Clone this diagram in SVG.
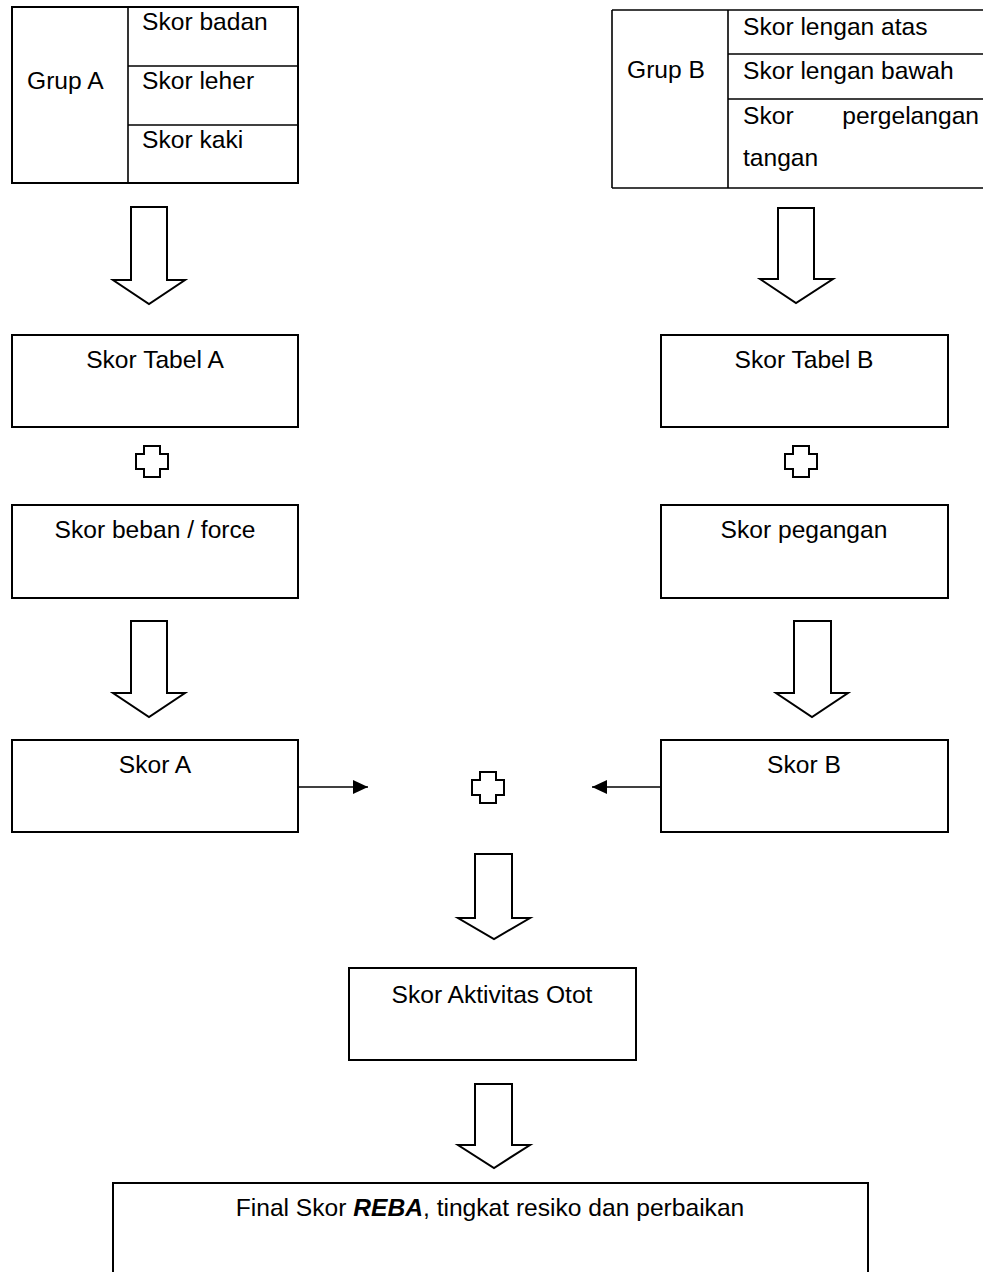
<svg xmlns="http://www.w3.org/2000/svg" width="983" height="1272" viewBox="0 0 983 1272">
<style>
.t{font-family:"Liberation Sans",Arial,sans-serif;font-size:24.6px;fill:#000}
.c{text-anchor:middle}
.b{fill:#fff;stroke:#000;stroke-width:2}
.l{stroke:#000;stroke-width:1.6;fill:none}
.ba{fill:#fff;stroke:#000;stroke-width:2;stroke-linejoin:miter}
</style>
<defs>
<marker id="ah" markerWidth="15" markerHeight="14" refX="15" refY="7" orient="auto" markerUnits="userSpaceOnUse">
<path d="M0,0 L15,7 L0,14 Z" fill="#000"/>
</marker>
</defs>
<rect width="983" height="1272" fill="#fff"/>

<g id="grupA">
<rect class="b" x="12" y="7" width="286" height="176"/>
<line class="l" x1="128" y1="7" x2="128" y2="183"/>
<line class="l" x1="128" y1="66" x2="298" y2="66"/>
<line class="l" x1="128" y1="125" x2="298" y2="125"/>
<text class="t" x="27" y="89">Grup A</text>
<text class="t" x="142" y="30">Skor badan</text>
<text class="t" x="142" y="89">Skor leher</text>
<text class="t" x="142" y="148">Skor kaki</text>
</g>

<g id="grupB">
<line class="l" x1="612" y1="10" x2="983" y2="10"/>
<line class="l" x1="612" y1="10" x2="612" y2="188"/>
<line class="l" x1="612" y1="188" x2="983" y2="188"/>
<line class="l" x1="728" y1="10" x2="728" y2="188"/>
<line class="l" x1="728" y1="54" x2="983" y2="54"/>
<line class="l" x1="728" y1="99" x2="983" y2="99"/>
<text class="t" x="627" y="78">Grup B</text>
<text class="t" x="743" y="35">Skor lengan atas</text>
<text class="t" x="743" y="79">Skor lengan bawah</text>
<text class="t" x="743" y="124">Skor</text>
<text class="t" x="979" y="124" text-anchor="end">pergelangan</text>
<text class="t" x="743" y="166">tangan</text>
</g>

<g id="tabelA"><rect class="b" x="12" y="335" width="286" height="92"/><text class="t c" x="155" y="368">Skor Tabel A</text></g>
<g id="tabelB"><rect class="b" x="661" y="335" width="287" height="92"/><text class="t c" x="804" y="368">Skor Tabel B</text></g>
<g id="beban"><rect class="b" x="12" y="505" width="286" height="93"/><text class="t c" x="155" y="538">Skor beban / force</text></g>
<g id="pegangan"><rect class="b" x="661" y="505" width="287" height="93"/><text class="t c" x="804" y="538">Skor pegangan</text></g>
<g id="skorA"><rect class="b" x="12" y="740" width="286" height="92"/><text class="t c" x="155" y="773">Skor A</text></g>
<g id="skorB"><rect class="b" x="661" y="740" width="287" height="92"/><text class="t c" x="804" y="773">Skor B</text></g>
<g id="aktivitas"><rect class="b" x="349" y="968" width="287" height="92"/><text class="t c" x="492" y="1003">Skor Aktivitas Otot</text></g>
<g id="final"><rect class="b" x="113" y="1183" width="755" height="95"/><text class="t c" x="490" y="1216">Final Skor <tspan font-weight="bold" font-style="italic">REBA</tspan>, tingkat resiko dan perbaikan</text></g>

<g id="plus1"><path class="ba" d="M144,446 H160 V454 H168 V469 H160 V477 H144 V469 H136 V454 H144 Z"/></g>
<g id="plus2"><path class="ba" d="M793,446 H809 V454 H817 V469 H809 V477 H793 V469 H785 V454 H793 Z"/></g>
<g id="plus3"><path class="ba" d="M480,772 H496 V780 H504 V795 H496 V803 H480 V795 H472 V780 H480 Z"/></g>

<g id="connectors">
<path class="ba" d="M131,207 H167 V280 H185 L149,304 L113,280 H131 Z"/>
<path class="ba" d="M778,208 H814 V279 H833 L796,303 L760,279 H778 Z"/>
<path class="ba" d="M131,621 H167 V693 H185 L149,717 L113,693 H131 Z"/>
<path class="ba" d="M794,621 H831 V693 H848 L812,717 L776,693 H794 Z"/>
<path class="ba" d="M475,854 H512 V918 H530 L494,939 L458,918 H475 Z"/>
<path class="ba" d="M475,1084 H512 V1145 H530 L494,1168 L458,1145 H475 Z"/>
<line class="l" x1="298" y1="787" x2="368" y2="787" marker-end="url(#ah)"/>
<line class="l" x1="661" y1="787" x2="592" y2="787" marker-end="url(#ah)"/>
</g>
</svg>
